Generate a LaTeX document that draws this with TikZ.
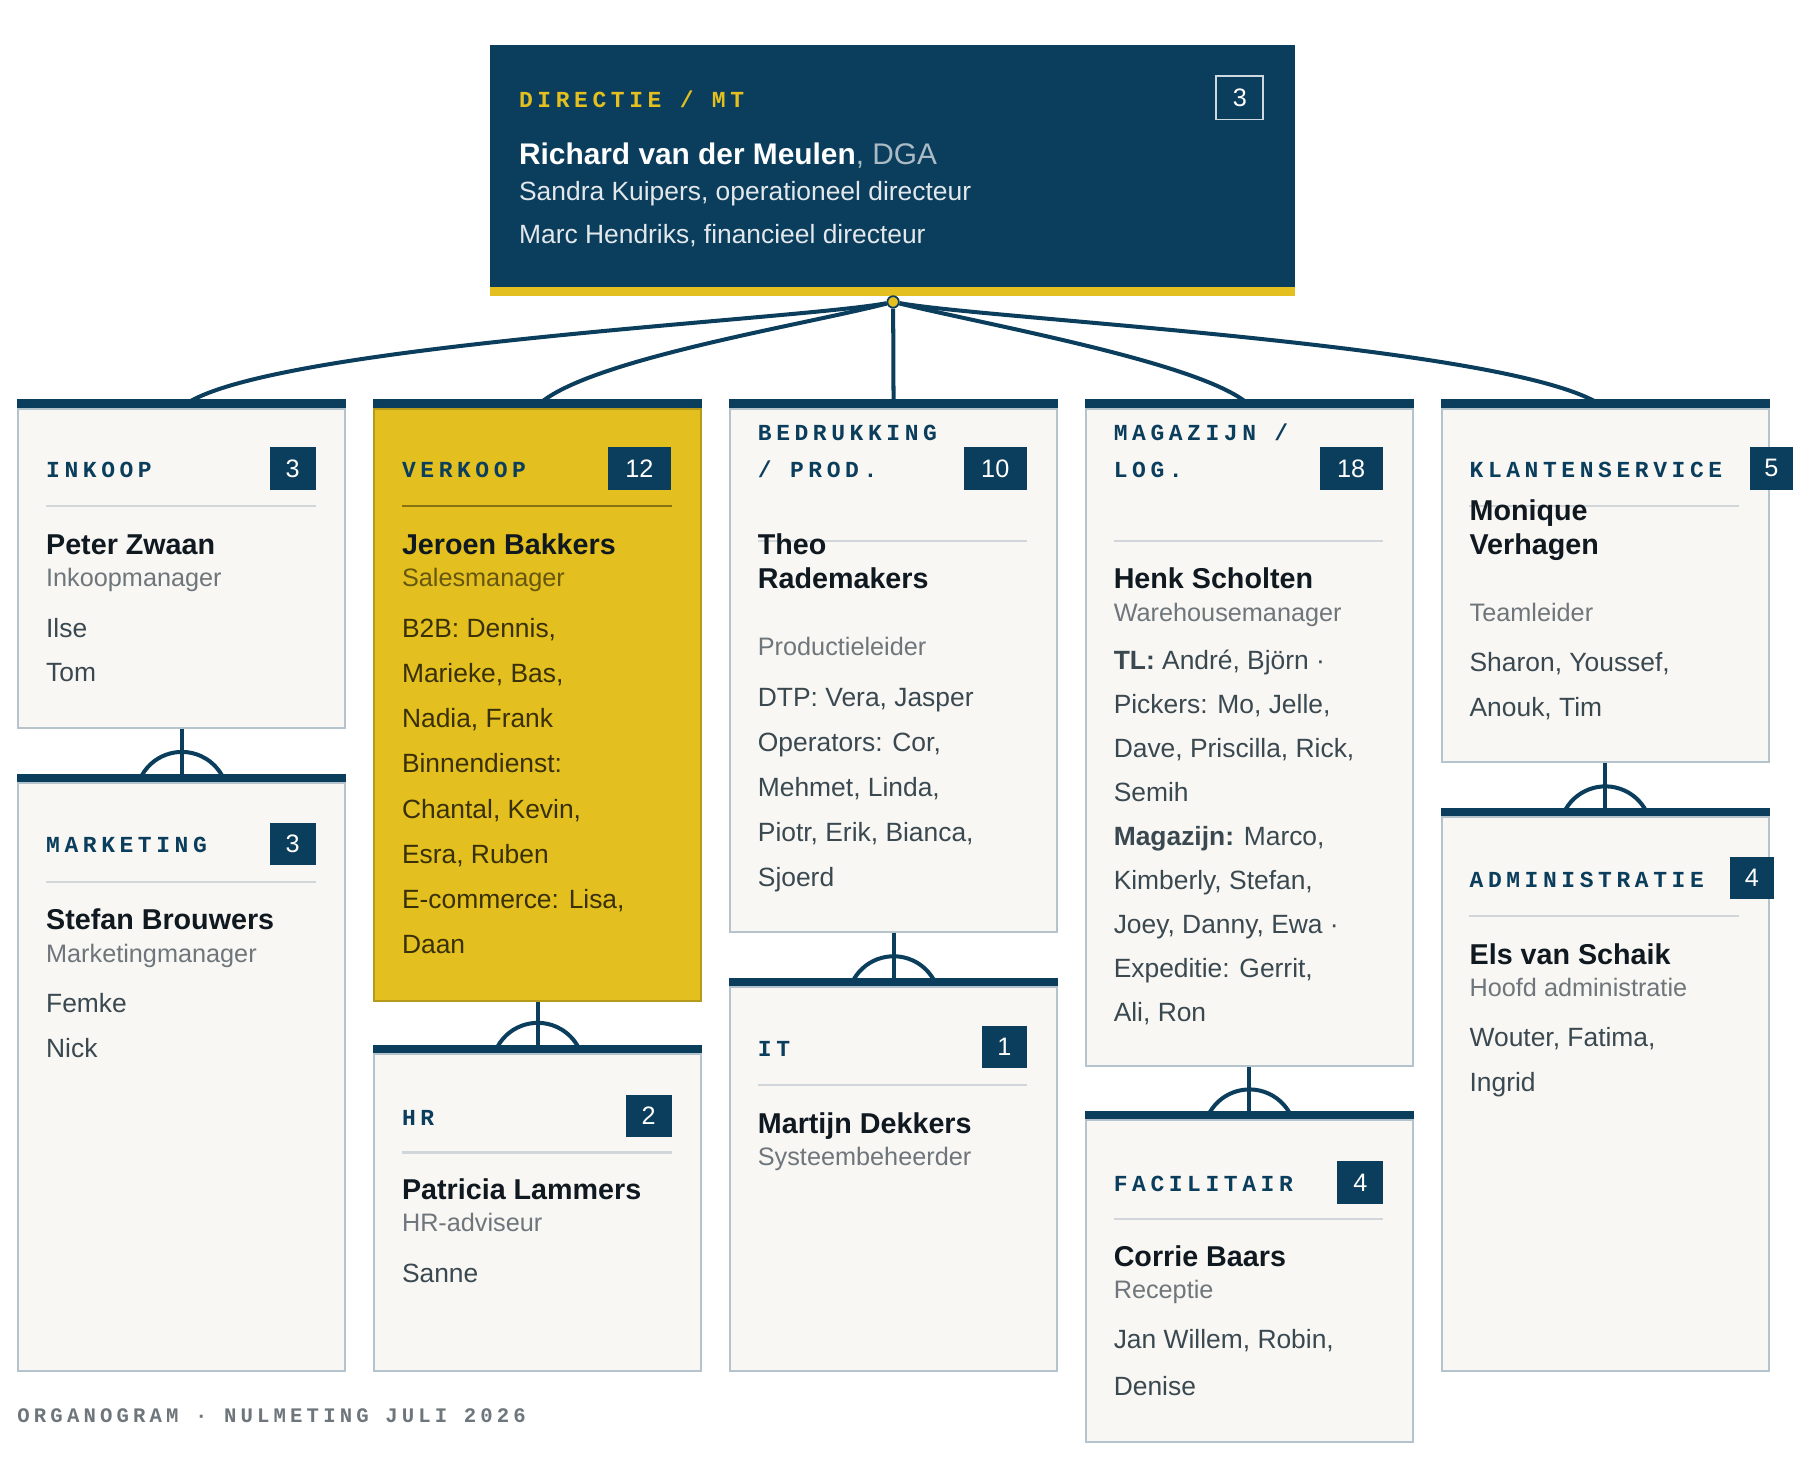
\documentclass[tikz,border=0pt]{standalone}
\usepackage{fontspec}
\setmainfont{Liberation Sans}
\newfontfamily\hdfont{Liberation Mono}[LetterSpace=20]
\usetikzlibrary{positioning}

\definecolor{navy}{HTML}{0B3D5C}
\definecolor{gold}{HTML}{E3C01F}
\definecolor{paper}{HTML}{F8F7F4}
\definecolor{edge}{HTML}{B5C3CD}
\definecolor{rulegrey}{HTML}{D0D6D9}
\definecolor{rolegrey}{HTML}{6E767B}
\definecolor{memgrey}{HTML}{3A4850}
\definecolor{ink}{HTML}{101820}

\begin{document}
\begin{tikzpicture}[x=1pt,y=-1pt,
  box/.style={draw=edge,line width=1.8pt,fill=paper,anchor=north west,minimum width=285pt,inner sep=0pt},
  bar/.style={navy,line width=7pt},
  link/.style={navy,line width=3.5pt},
  head/.style={anchor=base west,inner sep=0pt,text=navy,font=\hdfont\bfseries\fontsize{20}{32}\selectfont,align=left},
  badge/.style={fill=navy,text=white,minimum height=37pt,minimum width=40pt,inner sep=0pt,font=\fontsize{22}{22}\selectfont},
  who/.style={anchor=base west,inner sep=0pt,text=ink,font=\bfseries\fontsize{25}{30}\selectfont,align=left},
  role/.style={anchor=base west,inner sep=0pt,text=rolegrey,font=\fontsize{22}{22}\selectfont},
  member/.style={anchor=base west,inner sep=0pt,text=memgrey,font=\fontsize{23}{23}\selectfont},
  rule/.style={rulegrey,line width=2pt}]
\useasboundingbox (0,0) rectangle (1568,1275);

% directie
\node[fill=navy,anchor=north west,minimum width=701pt,minimum height=219pt,inner sep=0pt] (mt) at (427,39) {};
\fill[gold] (427,250) rectangle (1128,258);
\node[head,text=gold] (mt-h) at (452,94) {DIRECTIE / MT};
\node[draw=white!80!navy,line width=1.5pt,minimum width=41pt,minimum height=38pt,text=white,inner sep=0pt,font=\fontsize{22}{22}\selectfont] (mt-n) at (1080,85) {3};
\node[anchor=base west,inner sep=0pt,text=white,font=\fontsize{26}{26}\selectfont] (mt-1) at (452,143) {\textbf{Richard van der Meulen}\textcolor{white!65!navy}{, DGA}};
\node[anchor=base west,inner sep=0pt,text=white!88!navy,font=\fontsize{23}{23}\selectfont] (mt-2) at (452,175) {Sandra Kuipers, operationeel directeur};
\node[anchor=base west,inner sep=0pt,text=white!88!navy,font=\fontsize{23}{23}\selectfont] (mt-3) at (452,212) {Marc Hendriks, financieel directeur};
\node[circle,fill=gold,draw=navy,line width=1.5pt,inner sep=0pt,minimum size=10pt] (hub) at (778,263) {};

% boxes
\node[box,minimum height=278pt] (inkoop) at (15,355) {};
\node[box,minimum height=512pt] (marketing) at (15,681) {};
\node[box,minimum height=516pt,fill=gold,draw=gold!80!black] (verkoop) at (325,355) {};
\node[box,minimum height=276pt] (hr) at (325,917) {};
\node[box,minimum height=456pt] (bedrukking) at (635,355) {};
\node[box,minimum height=334pt] (it) at (635,859) {};
\node[box,minimum height=573pt] (magazijn) at (945,355) {};
\node[box,minimum height=280pt] (facilitair) at (945,975) {};
\node[box,minimum height=308pt] (klanten) at (1255,355) {};
\node[box,minimum height=482pt] (admin) at (1255,711) {};
\foreach \b in {inkoop,marketing,verkoop,hr,bedrukking,it,magazijn,facilitair,klanten,admin}
  \draw[bar] ([yshift=3.5pt]\b.north west) -- ([yshift=3.5pt]\b.north east);

% links from the hub
\draw[link] (hub) .. controls (700,278) and (250,300) .. (165,350);
\draw[link] (hub) .. controls (700,283) and (520,312) .. (472,350);
\draw[link] (hub) -- (bedrukking.north);
\draw[link] (hub) .. controls (860,283) and (1040,315) .. (1085,350);
\draw[link] (hub) .. controls (860,278) and (1300,300) .. (1390,350);

% stacked links
\foreach \a/\b in {inkoop/marketing,verkoop/hr,bedrukking/it,magazijn/facilitair,klanten/admin}{
  \draw[link] (\a.south) -- (\b.north);
  \draw[link,line cap=round] (\b.north) ++(-34.6,-6) arc[start angle=210,end angle=330,radius=40];
}

% inkoop
\node[head] (inkoop-h) at (40,416) {INKOOP};
\node[badge] (inkoop-n) at (255,408) {3};
\draw[rule] (40,441) -- (275,441);
\node[who] (inkoop-w) at (40,483) {Peter Zwaan};
\node[role] (inkoop-r) at (40,511) {Inkoopmanager};
\foreach \t [count=\i from 0] in {Ilse,Tom}
  \node[member] (inkoop-m\i) at (40,555+39*\i) {\t};

% marketing
\node[head] (marketing-h) at (40,743) {MARKETING};
\node[badge] (marketing-n) at (255,735) {3};
\draw[rule] (40,768) -- (275,768);
\node[who] (marketing-w) at (40,810) {Stefan Brouwers};
\node[role] (marketing-r) at (40,838) {Marketingmanager};
\foreach \t [count=\i from 0] in {Femke,Nick}
  \node[member] (marketing-m\i) at (40,882+39*\i) {\t};

% verkoop
\node[head] (verkoop-h) at (350,416) {VERKOOP};
\node[badge,minimum width=55pt] (verkoop-n) at (557,408) {12};
\draw[rule,gold!60!black] (350,441) -- (585,441);
\node[who] (verkoop-w) at (350,483) {Jeroen Bakkers};
\node[role,text=gold!45!black] (verkoop-r) at (350,511) {Salesmanager};
\foreach \t [count=\i from 0] in {{B2B: Dennis,},{Marieke, Bas,},{Nadia, Frank},{Binnendienst:},{Chantal, Kevin,},{Esra, Ruben},{E-commerce: Lisa,},Daan}
  \node[member,text=gold!25!black] (verkoop-m\i) at (350,555+39.4*\i) {\t};

% hr
\node[head] (hr-h) at (350,980) {HR};
\node[badge] (hr-n) at (565,972) {2};
\draw[rule] (350,1004) -- (585,1004);
\node[who] (hr-w) at (350,1045) {Patricia Lammers};
\node[role] (hr-r) at (350,1073) {HR-adviseur};
\node[member] (hr-m0) at (350,1117) {Sanne};

% bedrukking
\node[head] (bedrukking-h) at (660,416) {BEDRUKKING\\/ PROD.};
\node[badge,minimum width=55pt] (bedrukking-n) at (867,408) {10};
\draw[rule] (660,471) -- (895,471);
\node[who] (bedrukking-w) at (660,513) {Theo\\Rademakers};
\node[role] (bedrukking-r) at (660,571) {Productieleider};
\foreach \t [count=\i from 0] in {{DTP: Vera, Jasper},{Operators: Cor,},{Mehmet, Linda,},{Piotr, Erik, Bianca,},Sjoerd}
  \node[member] (bedrukking-m\i) at (660,615+39.4*\i) {\t};

% it
\node[head] (it-h) at (660,920) {IT};
\node[badge] (it-n) at (875,912) {1};
\draw[rule] (660,945) -- (895,945);
\node[who] (it-w) at (660,987) {Martijn Dekkers};
\node[role] (it-r) at (660,1015) {Systeembeheerder};

% magazijn
\node[head] (magazijn-h) at (970,416) {MAGAZIJN /\\LOG.};
\node[badge,minimum width=55pt] (magazijn-n) at (1177,408) {18};
\draw[rule] (970,471) -- (1205,471);
\node[who] (magazijn-w) at (970,513) {Henk Scholten};
\node[role] (magazijn-r) at (970,541) {Warehousemanager};
\foreach \t [count=\i from 0] in {{\textbf{TL:} André, Björn ·},{Pickers: Mo, Jelle,},{Dave, Priscilla, Rick,},Semih,{\textbf{Magazijn:} Marco,},{Kimberly, Stefan,},{Joey, Danny, Ewa ·},{Expeditie: Gerrit,},{Ali, Ron}}
  \node[member] (magazijn-m\i) at (970,583+38.3*\i) {\t};

% facilitair
\node[head] (facilitair-h) at (970,1038) {FACILITAIR};
\node[badge] (facilitair-n) at (1185,1030) {4};
\draw[rule] (970,1062) -- (1205,1062);
\node[who] (facilitair-w) at (970,1103) {Corrie Baars};
\node[role] (facilitair-r) at (970,1131) {Receptie};
\foreach \t [count=\i from 0] in {{Jan Willem, Robin,},Denise}
  \node[member] (facilitair-m\i) at (970,1175+41*\i) {\t};

% klantenservice
\node[head] (klanten-h) at (1280,416) {KLANTENSERVICE};
\node[badge,minimum width=38pt] (klanten-n) at (1543,408) {5};
\draw[rule] (1280,441) -- (1515,441);
\node[who] (klanten-w) at (1280,483) {Monique\\Verhagen};
\node[role] (klanten-r) at (1280,541) {Teamleider};
\foreach \t [count=\i from 0] in {{Sharon, Youssef,},{Anouk, Tim}}
  \node[member] (klanten-m\i) at (1280,585+39*\i) {\t};

% administratie
\node[head] (admin-h) at (1280,773) {ADMINISTRATIE};
\node[badge,minimum width=38pt] (admin-n) at (1526,765) {4};
\draw[rule] (1280,798) -- (1515,798);
\node[who] (admin-w) at (1280,840) {Els van Schaik};
\node[role] (admin-r) at (1280,868) {Hoofd administratie};
\foreach \t [count=\i from 0] in {{Wouter, Fatima,},Ingrid}
  \node[member] (admin-m\i) at (1280,912+39*\i) {\t};

% footer
\node[anchor=base west,inner sep=0pt,text=rolegrey,font=\hdfont\bfseries\fontsize{18}{18}\selectfont] (foot) at (15,1239) {ORGANOGRAM · NULMETING JULI 2026};
\end{tikzpicture}
\end{document}
